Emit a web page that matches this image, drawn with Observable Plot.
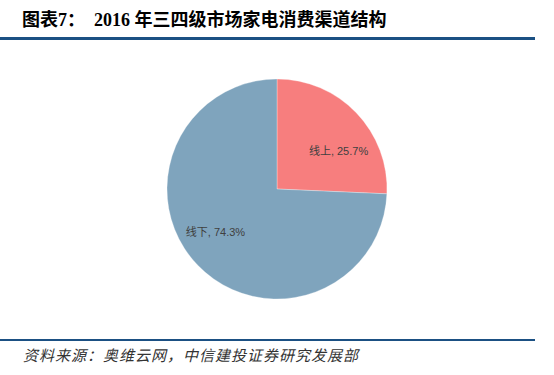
<!DOCTYPE html>
<html><head><meta charset="utf-8">
<script src="https://cdn.jsdelivr.net/npm/d3@7"></script>
<script src="https://cdn.jsdelivr.net/npm/@observablehq/plot@0.6"></script>
<style>
body{margin:0;background:#fff;width:554px;height:375px;overflow:hidden;position:relative;}
#title{position:absolute;left:22px;top:9px;font-size:18px;font-weight:bold;color:#000;white-space:pre;font-family:"Liberation Serif","Noto Sans CJK SC",serif;line-height:22px;}
.rule{position:absolute;left:0;width:535px;height:3px;background:#1B5083;}
#chart{position:absolute;left:0;top:45px;}
#foot{position:absolute;left:23px;top:346px;font-size:15px;letter-spacing:1px;font-style:italic;color:#333;font-family:"Liberation Serif","Noto Sans CJK SC",serif;line-height:20px;white-space:pre;}
</style></head><body>
<div id="title">图表7：  2016 年三四级市场家电消费渠道结构</div>
<div class="rule" style="top:37px"></div>
<div id="chart"></div>
<div class="rule" style="top:339px;height:2px"></div>
<div id="foot">资料来源：奥维云网，中信建投证券研究发展部</div>
<script>
const categories = ["线上", "线下"];
const values = [25.7, 74.3];
const colors = ["#F77E7E", "#7FA4BD"];

const arcs = d3.pie().sort(null).value(d => d.value)(
  categories.map((c, i) => ({category: c, value: values[i], color: colors[i]}))
);
const mid = a => (a.startAngle + a.endAngle) / 2;
const labelR = 0.68;
const label = a => `${a.data.category}, ${a.data.value.toFixed(1)}%`;

function pieMark() {
  const args = Array.from(arguments);
  const scales = args.find(a => a && typeof a.x === "function" && typeof a.y === "function");
  const cx = scales.x(0), cy = scales.y(0), r = scales.x(1) - scales.x(0);
  const arcGen = d3.arc().innerRadius(0).outerRadius(r);
  const g = d3.create("svg:g").attr("transform", `translate(${cx},${cy})`);
  g.selectAll("path").data(arcs).join("path")
    .attr("d", arcGen)
    .attr("fill", d => d.data.color)
    .attr("stroke", "#fff")
    .attr("stroke-width", 0.3);
  return g.node();
}

const textStyle = {fontSize: 11, fill: "#404040", fontFamily: "'Liberation Sans','Noto Sans CJK SC',sans-serif", textAnchor: "middle"};

const chart = Plot.plot({
  width: 554,
  height: 290,
  margin: 0,
  x: {domain: [-1, 1], range: [167, 387], axis: null},
  y: {domain: [-1, 1], range: [254, 34], axis: null},
  marks: [
    pieMark,
    Plot.text(arcs.filter((a, i) => i === 0), {
      x: a => labelR * Math.sin(mid(a)),
      y: a => labelR * Math.cos(mid(a)),
      text: label, dx: 7, dy: 14, ...textStyle
    }),
    Plot.text(arcs.filter((a, i) => i === 1), {
      x: a => labelR * Math.sin(mid(a)),
      y: a => labelR * Math.cos(mid(a)),
      text: label, dx: -8, dy: -9, ...textStyle
    })
  ]
});
document.getElementById("chart").appendChild(chart);
</script>
</body></html>
